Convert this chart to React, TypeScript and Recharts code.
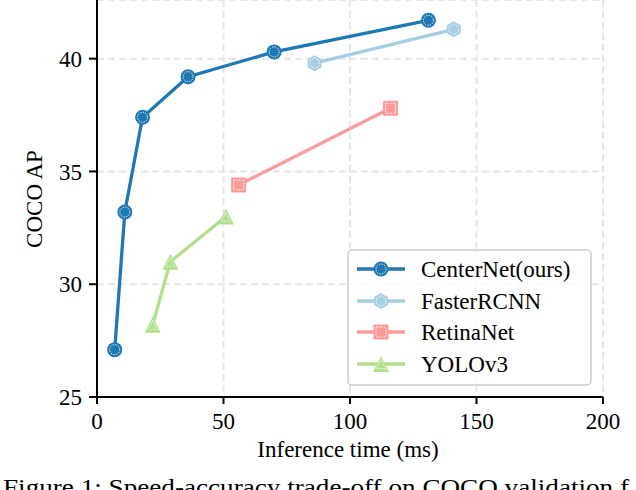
import React from 'react';
import { LineChart, Line, XAxis, YAxis, CartesianGrid, Customized } from 'recharts';

const seriesNames = ['CenterNet(ours)', 'FasterRCNN', 'RetinaNet', 'YOLOv3'];
const seriesColors = ['#1f78b4', '#a6cee3', '#fb9a99', '#b2df8a'];
const seriesMarkers = ['circle', 'hexagon', 'square', 'triangle'];

const centerNetTime = [7, 11, 18, 36, 70, 131];
const centerNetAP = [27.1, 33.2, 37.4, 39.2, 40.3, 41.7];
const fasterTime = [86, 141];
const fasterAP = [39.8, 41.3];
const retinaTime = [56, 116];
const retinaAP = [34.4, 37.8];
const yoloTime = [22, 29, 51];
const yoloAP = [28.2, 31.0, 33.0];

const xTicks = [0, 50, 100, 150, 200];
const yTicks = [25, 30, 35, 40];
const xDomain = [0, 200];
const yDomain = [25, 42.6];

const xLabel = 'Inference time (ms)';
const yLabel = 'COCO AP';
const caption = 'Figure 1: Speed-accuracy trade-off on COCO validation f';

const zip = (xs: number[], ys: number[]) => xs.map((x, i) => ({ x, y: ys[i] }));
const seriesData = [
  zip(centerNetTime, centerNetAP),
  zip(fasterTime, fasterAP),
  zip(retinaTime, retinaAP),
  zip(yoloTime, yoloAP),
];

const FONT = '"Liberation Serif", "Times New Roman", serif';

function Marker({ kind, cx, cy, color }: { kind: string; cx: number; cy: number; color: string }) {
  const dot = { fill: 'none', stroke: '#ffffff', strokeWidth: 1, strokeDasharray: '1.3 1.3' };
  if (kind === 'circle') {
    return (
      <g>
        <circle cx={cx} cy={cy} r={7.5} fill={color} />
        <circle cx={cx} cy={cy} r={5} {...dot} />
      </g>
    );
  }
  if (kind === 'hexagon') {
    const pts = (r: number) =>
      Array.from({ length: 6 }, (_, i) => {
        const a = (Math.PI / 3) * i - Math.PI / 2;
        return `${cx + r * Math.cos(a)},${cy + r * Math.sin(a)}`;
      }).join(' ');
    return (
      <g>
        <polygon points={pts(8)} fill={color} />
        <polygon points={pts(5.3)} {...dot} />
      </g>
    );
  }
  if (kind === 'square') {
    return (
      <g>
        <rect x={cx - 7.5} y={cy - 7.5} width={15} height={15} fill={color} />
        <rect x={cx - 5} y={cy - 5} width={10} height={10} {...dot} />
      </g>
    );
  }
  const tri = (s: number) => `${cx},${cy - s} ${cx - s},${cy + s} ${cx + s},${cy + s}`;
  return (
    <g>
      <polygon points={tri(8)} fill={color} />
      <polygon points={tri(4.5)} {...dot} />
    </g>
  );
}

const makeDot = (idx: number) => (props: any) => {
  const { cx, cy, index } = props;
  if (cx == null || cy == null) return <g key={`d-${idx}-${index}`} />;
  return (
    <g key={`d-${idx}-${index}`}>
      <Marker kind={seriesMarkers[idx]} cx={cx} cy={cy} color={seriesColors[idx]} />
    </g>
  );
};

const Decorations = () => {
  const lx = 348, ly = 250, lw = 243, lh = 135;
  const rowY = [269, 301, 332, 364];
  return (
    <g>
      <rect x={lx} y={ly} width={lw} height={lh} rx={4} ry={4} fill="#ffffff" fillOpacity={0.8} stroke="#cccccc" strokeWidth={1.5} />
      {seriesNames.map((name, i) => (
        <g key={name}>
          <line x1={357} x2={405} y1={rowY[i]} y2={rowY[i]} stroke={seriesColors[i]} strokeWidth={3.3} />
          <Marker kind={seriesMarkers[i]} cx={381} cy={rowY[i]} color={seriesColors[i]} />
          <text x={421} y={rowY[i] + 8} fontFamily={FONT} fontSize={23} fill="#000">{name}</text>
        </g>
      ))}
      <text x={348} y={457} textAnchor="middle" fontFamily={FONT} fontSize={23} fill="#000">{xLabel}</text>
      <text x={42} y={199} textAnchor="middle" transform="rotate(-90, 42, 199)" fontFamily={FONT} fontSize={23} fill="#000">{yLabel}</text>
      <text x={3} y={495} fontFamily={FONT} fontSize={23} fill="#000" textLength={626} lengthAdjust="spacingAndGlyphs">{caption}</text>
    </g>
  );
};

export default function App() {
  return (
    <div style={{ position: 'absolute', left: 0, top: 0, width: 636, height: 490, background: '#fff' }}>
      <LineChart width={636} height={490} margin={{ top: 0, right: 33, left: 0, bottom: 0 }}>
        <CartesianGrid stroke="#e6e6e6" strokeWidth={2} strokeDasharray="7 4" ticks={undefined} />
        <XAxis
          type="number"
          dataKey="x"
          domain={xDomain}
          ticks={xTicks}
          allowDataOverflow
          height={93}
          tickSize={7}
          tickMargin={9}
          axisLine={{ stroke: '#000', strokeWidth: 2 }}
          tickLine={{ stroke: '#000', strokeWidth: 2 }}
          tick={{ fill: '#000', fontFamily: FONT, fontSize: 23 }}
        />
        <YAxis
          type="number"
          dataKey="y"
          domain={yDomain}
          ticks={yTicks}
          allowDataOverflow
          width={97}
          tickSize={8}
          tickMargin={7}
          axisLine={{ stroke: '#000', strokeWidth: 2 }}
          tickLine={{ stroke: '#000', strokeWidth: 2 }}
          tick={{ fill: '#000', fontFamily: FONT, fontSize: 23 }}
        />
        {seriesData.map((d, i) => (
          <Line
            key={seriesNames[i]}
            data={d}
            dataKey="y"
            name={seriesNames[i]}
            type="linear"
            stroke={seriesColors[i]}
            strokeWidth={3.3}
            dot={makeDot(i)}
            activeDot={false}
            isAnimationActive={false}
          />
        ))}
        <Customized component={Decorations} />
      </LineChart>
    </div>
  );
}
